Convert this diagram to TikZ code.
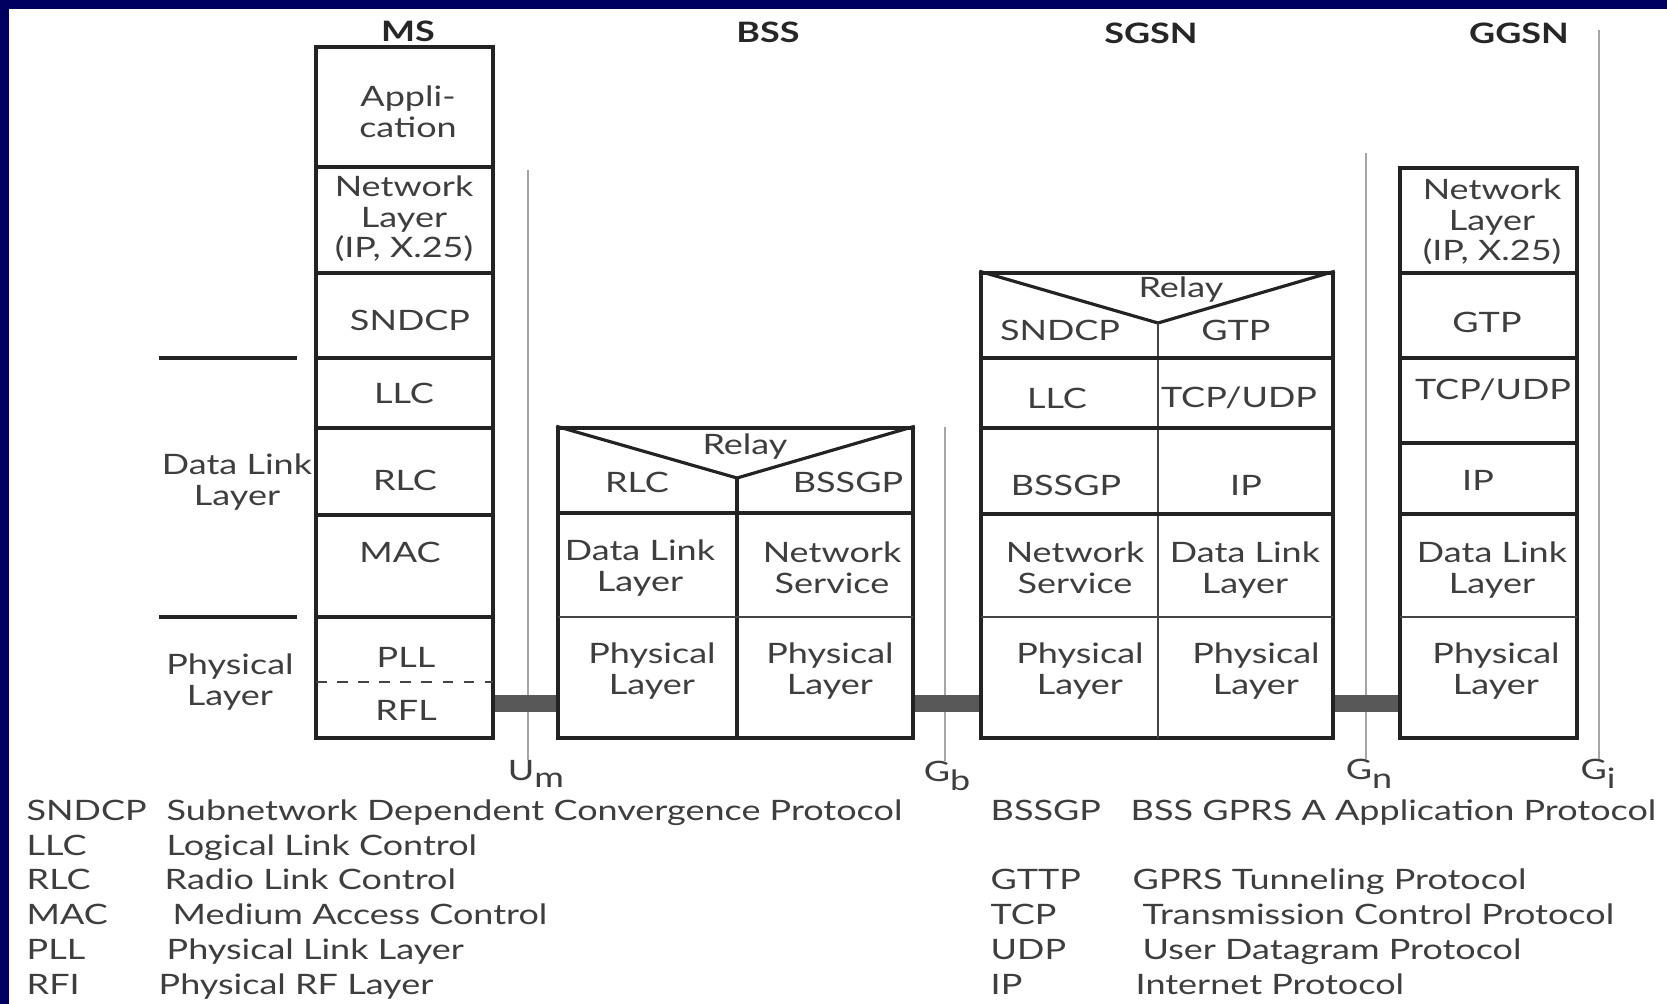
\documentclass[tikz,border=0pt]{standalone}
\usepackage{fontspec}
\setmainfont{Lato}[FakeStretch=1.28]
\usepackage{tikz}
\usetikzlibrary{fit}
\definecolor{frameNavy}{RGB}{0,0,96}
\definecolor{inkGray}{RGB}{62,62,62}
\definecolor{ruleDark}{RGB}{35,35,35}
\definecolor{linkGray}{RGB}{88,88,88}
\definecolor{ifaceGray}{RGB}{165,165,165}

\begin{document}
\begin{tikzpicture}[x=0.1mm, y=-0.1mm,
  every node/.style={inner sep=0pt, align=center, text=inkGray,
    font=\fontsize{8}{8.7}\selectfont},
  stackbox/.style={draw=ruleDark, line width=1pt, fit={#1}},
  cellrule/.style={draw=ruleDark, line width=0.9pt},
  thinrule/.style={draw=ruleDark!85, line width=0.6pt},
  iface/.style={draw=ifaceGray, line width=0.6pt},
  link/.style={draw=linkGray, line width=1.7mm},
  head/.style={text=black!85, font=\fontsize{8}{8.7}\selectfont\bfseries},
  legkey/.style={anchor=base west},
  legtext/.style={anchor=base west}
]
  \useasboundingbox (0,0) rectangle (1667,1004);
  \fill[white] (0,0) rectangle (1667,1004);
  \fill[frameNavy] (0,0) rectangle (1667,9);
  \fill[frameNavy] (0,0) rectangle (9,1004);

  % entity names
  \node[head] (msName)   at (408,31)  {MS};
  \node[head] (bssName)  at (768,32)  {BSS};
  \node[head] (sgsnName) at (1151,33) {SGSN};
  \node[head] (ggsnName) at (1519,33) {GGSN};

  % interfaces
  \coordinate (umTop) at (528,170);
  \coordinate (gbTop) at (945,427);
  \coordinate (gnTop) at (1366,153);
  \coordinate (giTop) at (1599,30);
  \node (um) at (536,774) {U\raisebox{-0.5ex}{m}};
  \node (gb) at (947,776) {G\raisebox{-0.6ex}{b}};
  \node (gn) at (1369,774) {G\raisebox{-0.6ex}{n}};
  \node (gi) at (1598,774) {G\raisebox{-0.6ex}{i}};
  \draw[iface] (umTop) -- (umTop |- um.north);
  \draw[iface] (gbTop) -- (gbTop |- gb.north);
  \draw[iface] (gnTop) -- (gnTop |- gn.north);
  \draw[iface] (giTop) -- (giTop |- gi.north);

  % stacks
  \node[stackbox={(316,47) (493,738)}]    (ms)   {};
  \node[stackbox={(558,428) (913,738)}]   (bss)  {};
  \node[stackbox={(981,273) (1333,738)}]  (sgsn) {};
  \node[stackbox={(1400,168) (1577,738)}] (ggsn) {};

  % physical links
  \coordinate (linkY) at (0,703.5);
  \draw[link] (ms.south east |- linkY)   -- (bss.south west |- linkY);
  \draw[link] (bss.south east |- linkY)  -- (sgsn.south west |- linkY);
  \draw[link] (sgsn.south east |- linkY) -- (ggsn.south west |- linkY);

  % MS
  \foreach \y in {167,273,358,428,515,617}
    \draw[cellrule] (316,\y) -- (493,\y);
  \draw[thinrule, dashed] (316,682) -- (493,682);
  \node (msApp)   at (408,112) {Appli-\\cation};
  \node (msNet)   at (404,219) {Network\\Layer\\(IP, X.25)};
  \node (msSndcp) at (410,320) {SNDCP};
  \node (msLlc)   at (404,393) {LLC};
  \node (msRlc)   at (405,480) {RLC};
  \node (msMac)   at (400,552) {MAC};
  \node (msPll)   at (406,657) {PLL};
  \node (msRfl)   at (406,710) {RFL};
  \draw[cellrule] (159,358) -- (297,358);
  \draw[cellrule] (159,617) -- (297,617);
  \node (dllSide)  at (237,482) {Data Link\\Layer};
  \node (physSide) at (230,682) {Physical\\Layer};

  % BSS
  \draw[cellrule] (bss.north west) -- (737,478) -- (bss.north east);
  \draw[cellrule] (737,478) -- (737,738);
  \draw[cellrule] (558,513) -- (913,513);
  \draw[thinrule] (558,617) -- (913,617);
  \node (bssRelay) at (745,447) {Relay};
  \node (bssRlc)   at (637,482) {RLC};
  \node (bssGp)    at (848,482) {BSSGP};
  \node (bssDll)   at (640,568) {Data Link\\Layer};
  \node (bssNs)    at (832,568) {Network\\Service};
  \node (bssPhyA)  at (652,671) {Physical\\Layer};
  \node (bssPhyB)  at (830,671) {Physical\\Layer};

  % SGSN
  \draw[cellrule] (sgsn.north west) -- (1158,323) -- (sgsn.north east);
  \draw[thinrule] (1158,323) -- (1158,738);
  \foreach \y in {358,428,514}
    \draw[cellrule] (981,\y) -- (1333,\y);
  \draw[thinrule] (981,617) -- (1333,617);
  \node (sgRelay) at (1181,290) {Relay};
  \node (sgSndcp) at (1060,330) {SNDCP};
  \node (sgGtp)   at (1236,330) {GTP};
  \node (sgLlc)   at (1057,398) {LLC};
  \node (sgTcp)   at (1239,398) {TCP/UDP};
  \node (sgGp)    at (1066,485) {BSSGP};
  \node (sgIp)    at (1246,485) {IP};
  \node (sgNs)    at (1075,568) {Network\\Service};
  \node (sgDll)   at (1245,570) {Data Link\\Layer};
  \node (sgPhyA)  at (1080,671) {Physical\\Layer};
  \node (sgPhyB)  at (1256,671) {Physical\\Layer};

  % GGSN
  \foreach \y in {273,358,443,514}
    \draw[cellrule] (1400,\y) -- (1577,\y);
  \draw[thinrule] (1400,617) -- (1577,617);
  \node (ggNet) at (1492,222) {Network\\Layer\\(IP, X.25)};
  \node (ggGtp) at (1487,322) {GTP};
  \node (ggTcp) at (1493,390) {TCP/UDP};
  \node (ggIp)  at (1478,480) {IP};
  \node (ggDll) at (1492,570) {Data Link\\Layer};
  \node (ggPhy) at (1496,671) {Physical\\Layer};

  % abbreviations
  \node[legkey]  (kSndcp) at (26,820)  {SNDCP};
  \node[legtext] (tSndcp) at (166,820) {Subnetwork Dependent Convergence Protocol};
  \node[legkey]  (kLlc)   at (26,855)  {LLC};
  \node[legtext] (tLlc)   at (166,855) {Logical Link Control};
  \node[legkey]  (kRlc)   at (26,889)  {RLC};
  \node[legtext] (tRlc)   at (164,889) {Radio Link Control};
  \node[legkey]  (kMac)   at (26,924)  {MAC};
  \node[legtext] (tMac)   at (172,924) {Medium Access Control};
  \node[legkey]  (kPll)   at (26,959)  {PLL};
  \node[legtext] (tPll)   at (166,959) {Physical Link Layer};
  \node[legkey]  (kRfi)   at (26,994)  {RFI};
  \node[legtext] (tRfi)   at (158,994) {Physical RF Layer};

  \node[legkey]  (kGp)   at (990,820)  {BSSGP};
  \node[legtext] (tGp)   at (1130,820) {BSS GPRS A Application Protocol};
  \node[legkey]  (kGttp) at (990,889)  {GTTP};
  \node[legtext] (tGttp) at (1132,889) {GPRS Tunneling Protocol};
  \node[legkey]  (kTcp)  at (990,924)  {TCP};
  \node[legtext] (tTcp)  at (1142,924) {Transmission Control Protocol};
  \node[legkey]  (kUdp)  at (990,959)  {UDP};
  \node[legtext] (tUdp)  at (1142,959) {User Datagram Protocol};
  \node[legkey]  (kIp)   at (990,994)  {IP};
  \node[legtext] (tIp)   at (1135,994) {Internet Protocol};
\end{tikzpicture}
\end{document}
